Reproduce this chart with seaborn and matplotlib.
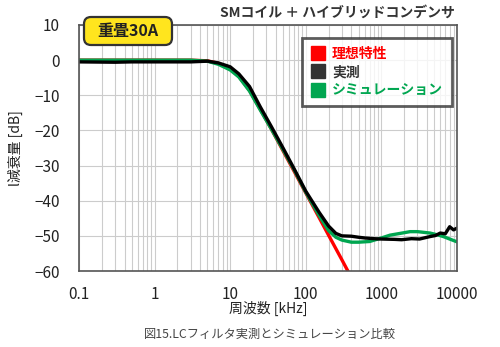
import matplotlib
matplotlib.use("Agg")
import matplotlib.pyplot as plt
from matplotlib.lines import Line2D
from matplotlib.patches import FancyBboxPatch
from matplotlib.transforms import IdentityTransform
import pandas as pd
import seaborn as sns

# 理想特性 (red)
ideal_f = [0.1, 1, 3, 5, 7, 10, 13, 18, 25, 35, 50, 70, 100, 150, 200, 300, 360]
ideal_db = [0, 0, 0, -0.2, -0.9, -2.5, -4.6, -8.6, -14, -19.6, -25.8, -31.6, -37.8, -44.8, -49.8, -56.8, -60]

# 実測 (black)
meas_f = [0.1, 0.3, 0.5, 1, 3, 5, 7, 10, 13, 18, 25, 35, 50, 70, 100, 150, 200, 250, 300,
          400, 500, 600, 800, 1000, 1500, 1850, 2500, 3200, 4400, 5200, 6000, 7000, 8000, 9000, 10000]
meas_db = [-0.5, -0.6, -0.5, -0.5, -0.5, -0.3, -0.8, -1.9, -3.9, -7.5, -13.3, -18.9, -25, -30.9, -37.3, -43.3, -47.2, -49.3, -50,
           -50.1, -50.4, -50.6, -50.8, -50.9, -51, -51.1, -50.8, -50.9, -50.2, -49.9, -49.2, -49.4, -47.4, -48.3, -47.8]

# シミュレーション (green)
sim_f = [0.1, 1, 3, 5, 7, 10, 13, 18, 25, 35, 50, 70, 100, 150, 200, 250, 300,
         400, 500, 700, 1000, 1300, 2000, 2400, 3000, 4400, 5500, 6600, 8000, 10000]
sim_db = [0, 0, 0, -0.3, -1.2, -2.8, -4.8, -8.8, -14.2, -19.6, -25.5, -31.2, -37.6, -44.2, -48.5, -50.4, -51.2,
          -51.8, -51.8, -51.6, -50.6, -49.8, -49.1, -48.8, -48.8, -49.2, -49.7, -50.2, -50.9, -51.7]

series_names = ["理想特性", "シミュレーション", "実測"]
colors = {"理想特性": "#ff0000", "シミュレーション": "#00a650", "実測": "#000000"}

df = pd.concat([
    pd.DataFrame({"f": ideal_f, "db": ideal_db, "s": "理想特性"}),
    pd.DataFrame({"f": sim_f, "db": sim_db, "s": "シミュレーション"}),
    pd.DataFrame({"f": meas_f, "db": meas_db, "s": "実測"}),
])

sns.set_style("white")
plt.rcParams["font.family"] = ["Noto Sans CJK JP", "DejaVu Sans"]

fig = plt.figure(figsize=(5, 3.47), dpi=100)
ax = fig.add_axes([0.158, 0.219, 0.756, 0.709])

sns.lineplot(data=df, x="f", y="db", hue="s", hue_order=series_names, palette=colors,
             linewidth=2.4, sort=False, estimator=None, legend=False, ax=ax)

ax.set_xscale("log")
ax.set_xlim(0.1, 10000)
ax.set_ylim(-60, 10)
ax.set_yticks(range(-60, 11, 10))
ax.set_xticks([0.1, 1, 10, 100, 1000, 10000])
ax.set_xticklabels(["0.1", "1", "10", "100", "1000", "10000"])
ax.grid(True, which="both", axis="x", color="#cccccc", linewidth=0.8)
ax.grid(True, which="major", axis="y", color="#cccccc", linewidth=0.8)
ax.tick_params(axis="both", which="both", length=0, labelsize=11, colors="#222222")
ax.tick_params(axis="x", pad=11)
ax.tick_params(axis="y", pad=14)
for sp in ax.spines.values():
    sp.set_color("#555555")
    sp.set_linewidth(1.2)

ax.set_xlabel("周波数 [kHz]", fontsize=10, color="#222222", labelpad=-2)
ax.set_ylabel("l減衰量 [dB]", fontsize=10, color="#222222", labelpad=8)

fig.text(0.91, 0.962, "SMコイル ＋ ハイブリッドコンデンサ", ha="right", va="center",
         fontsize=10, fontweight="bold", color="#333333")

# badge (pixel coords, origin bottom-left)
badge = FancyBboxPatch((84, 347 - 45), 88, 28, boxstyle="round,pad=0,rounding_size=7",
                       transform=IdentityTransform(), facecolor="#ffe51e",
                       edgecolor="#333333", linewidth=1.6, zorder=5)
fig.patches.append(badge)
fig.text(128 / 500, 1 - 31 / 347, "重畳30A", ha="center", va="center", fontsize=11.5,
         fontweight="bold", color="#222222", zorder=6)

fig.text(0.54, 0.037, "図15.LCフィルタ実測とシミュレーション比較", ha="center", va="center",
         fontsize=8.8, color="#444444")

leg_labels = ["理想特性", "実測", "シミュレーション"]
leg_colors = ["#ff0000", "#333333", "#00a650"]
handles = [Line2D([], [], marker="s", linestyle="none", markersize=10, color=c) for c in leg_colors]
leg = ax.legend(handles, leg_labels, loc="upper right", bbox_to_anchor=(0.987, 0.947),
                borderaxespad=0, frameon=True, fancybox=False, edgecolor="#333333",
                labelcolor=leg_colors, handlelength=1.0, handletextpad=0.5,
                labelspacing=0.3, borderpad=0.65, prop={"weight": "bold", "size": 10})
leg.get_frame().set_linewidth(2)

fig.savefig("out.png", dpi=100)
